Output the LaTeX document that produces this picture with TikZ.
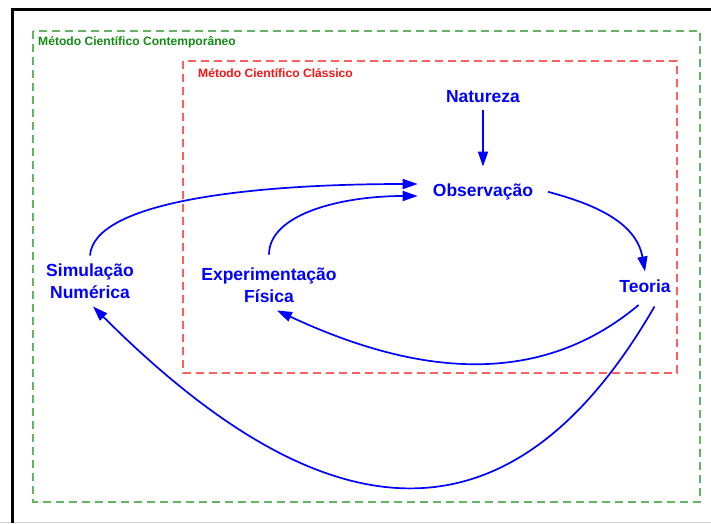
\documentclass[tikz,border=0pt]{standalone}
\usepackage{fontspec}
\setmainfont{Liberation Sans}
\usetikzlibrary{arrows.meta}
\definecolor{pblue}{RGB}{0,0,255}
\definecolor{txtgreen}{RGB}{20,140,20}
\definecolor{dashgreen}{RGB}{100,180,100}
\definecolor{dashred}{RGB}{255,95,95}
\definecolor{txtred}{RGB}{250,20,20}
\begin{document}
\begin{tikzpicture}[x=1pt,y=-1pt,
    box/.style={text=pblue,font=\fontsize{17.5}{22}\selectfont\bfseries,align=center,
                inner sep=8pt,text height=12.5pt,text depth=0pt},
    twoline/.style={text height=34.5pt,text depth=0pt},
    lbl/.style={font=\fontsize{12.1}{14}\selectfont\bfseries,inner sep=0pt,anchor=west},
    dbox/.style={line width=1.4pt,dash pattern=on 8pt off 5pt},
    lnk/.style={draw=pblue,line width=1.7pt,-{Triangle[length=15pt,width=10pt]}}]
  \useasboundingbox (0,0) rectangle (711,523);
  % frame
  \draw[gray!35,line width=1pt] (0,522) -- (711,522);
  \draw[line width=2.5pt] (12.5,523) -- (12.5,9.5) -- (711,9.5);
  % the two methods
  \draw[dashgreen,dbox] (33,31) rectangle (700,502);
  \draw[dashred,dbox] (183,61) rectangle (677,373);
  \draw (38,42) node[lbl,text=txtgreen] (lcon) {Método Científico Contemporâneo}
        (198,73) node[lbl,text=txtred] (lcla) {Método Científico Clássico};
  \draw (483,96) node[box] (nat) {Natureza}
        (483,190) node[box] (obs) {Observação}
        (645,286) node[box] (teo) {Teoria}
        (269,285) node[box,twoline] (exp) {Experimentação\\Física}
        (90,281) node[box,twoline] (sim) {Simulação\\Numérica};
  \path (nat) edge[lnk,shorten >=9pt] (obs)
        (obs.east) edge[lnk,out=-15,in=100,shorten <=7pt] (teo.north)
        ([xshift=-1pt]teo.south) edge[lnk,out=-140,in=-25,shorten <=7pt] ([xshift=8pt]exp.south)
        ([xshift=13pt]teo.south) edge[lnk,out=-120,in=-45,looseness=1.4,shorten <=7pt] ([xshift=3pt]sim.south)
        (sim.north) edge[lnk,out=86,in=180,out distance=55pt,in distance=170pt,shorten >=7pt] ([yshift=6pt]obs.west)
        (exp.north) edge[lnk,out=90,in=180,out distance=45pt,in distance=85pt,shorten <=5pt,shorten >=7pt] ([yshift=-6pt]obs.west);
\end{tikzpicture}
\end{document}
